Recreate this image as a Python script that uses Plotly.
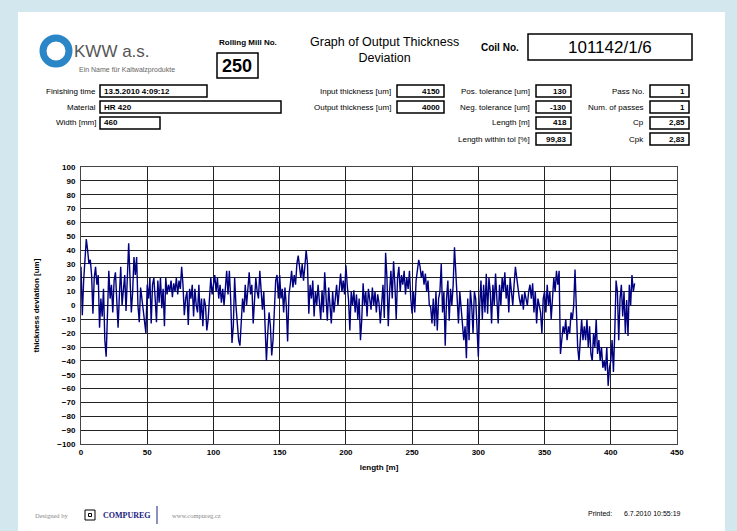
import plotly.graph_objects as go

W, H = 737, 531
FONT = "Liberation Sans Narrow, Arial Narrow, Liberation Sans, Arial, sans-serif"
SERIF = "Liberation Serif, DejaVu Serif, serif"

# measured thickness deviation, one reading per metre of coil length
length_m = list(range(0, 419))
deviation_um = [
    28, -7, 18, 35, 48, 40, 30, 33, 22, -6,
    20, 28, 15, 22, -16, 5, -8, 12, -25, -37,
    -2, 25, 5, 15, -5, 18, 24, 5, -16, 8,
    28, 0, 10, 22, -4, 30, 45, 20, -5, 10,
    35, 22, 35, 0, -12, 13, 5, -3, -10, -20,
    15, 5, 20, -13, 15, 20, 5, -12, 18, 2,
    20, -2, 12, -15, 20, 8, 15, 10, 18, 6,
    16, 10, 20, 8, 18, 12, 28, 15, -7, 5,
    10, -14, 12, 5, 15, -8, 12, 0, -5, 15,
    -10, 5, -15, 5, 0, -18, -10, 5, 20, 8,
    15, 22, 10, 20, 5, 15, 2, 12, 0, 15,
    25, 8, 25, 5, -27, -15, 20, 0, -15, -25,
    -29, -10, 5, -5, 15, 0, 10, 24, 8, 15,
    -13, 5, 20, 10, 5, 25, 10, -3, 10, -12,
    -40, -20, -5, -15, -36, -25, -5, 18, 22, 5,
    22, 5, 12, -5, 13, 0, -26, 8, 15, 25,
    13, 22, 15, 30, 36, 25, 20, 30, 18, 28,
    40, 30, -6, 15, 5, 18, -8, 10, 0, 15,
    5, -10, 11, -5, 24, 8, -11, 13, 0, -13,
    10, -5, 5, 15, 0, 12, 23, 10, 18, 8,
    29, 15, 4, -18, 10, 0, 11, -5, 8, -10,
    5, -25, -10, 16, 0, 10, -8, 12, 5, -3,
    13, 0, 10, -5, 8, 2, -13, 5, 15, -9,
    38, 20, -15, 10, 25, 5, 32, 15, -10, 20,
    28, 10, 22, 15, 25, 8, 20, 12, 25, 5,
    -6, 10, -5, 18, 25, 33, 28, 20, 25, 15,
    23, 10, 18, 0, -1, -13, 5, -15, 10, -18,
    5, 10, 30, -5, 10, -29, 5, 18, -11, 12,
    0, 15, 42, 20, 5, -13, 10, 0, -15, -25,
    -15, -38, 5, -25, 11, 0, -20, 10, 5, -15,
    -37, 0, 18, -10, 15, -5, 23, -6, 20, 10,
    -13, 15, 0, 23, 5, -13, 15, 0, 20, 10,
    24, 5, 15, -5, 20, 10, 0, 15, 28, 20,
    10, 5, 0, 8, -3, 10, 5, 0, 10, 15,
    5, 16, -5, 10, -13, 5, 0, -5, -20, 5,
    10, -5, 15, 0, 10, -10, 5, 20, 10, 25,
    15, 25, -35, -25, -15, -20, -10, -25, -15, -20,
    -5, -10, 0, 26, -5, -30, -40, -20, -10, -25,
    -15, -25, -10, -30, -15, -35, -40, -20, -30, -10,
    -35, -25, -40, -30, -45, -40, -47, -30, -58, -45,
    -40, -25, -48, -20, 18, 10, -25, 5, 15, -8,
    10, -20, 4, -22, 15, 0, 22, 10, 16,
]

x_ticks = [0, 50, 100, 150, 200, 250, 300, 350, 400, 450]
y_ticks = list(range(-100, 101, 10))

coil_no = "101142/1/6"
mill_no = "250"
left_fields = [("Finishing time", "13.5.2010 4:09:12"), ("Material", "HR 420"), ("Width [mm]", "460")]
mid_fields = [("Input thickness [um]", "4150"), ("Output thickness [um]", "4000")]
tol_fields = [("Pos. tolerance [um]", "130"), ("Neg. tolerance [um]", "-130"),
              ("Length [m]", "418"), ("Length within tol [%]", "99,83")]
pass_fields = [("Pass No.", "1"), ("Num. of passes", "1"), ("Cp", "2,85"), ("Cpk", "2,83")]


def px(x):
    return x / W


def py(y):
    return 1 - y / H


shapes = []
annotations = []


def box(x0, y0, x1, y1, width=1.5):
    shapes.append(dict(type="rect", xref="paper", yref="paper",
                       x0=px(x0), x1=px(x1), y0=py(y1), y1=py(y0),
                       line=dict(color="black", width=width), layer="above"))


def text(x, y, s, size=8, anchor="left", bold=False, color="black", family=FONT):
    annotations.append(dict(xref="paper", yref="paper", x=px(x), y=py(y), text=s,
                            showarrow=False, xanchor=anchor, yanchor="middle",
                            font=dict(size=size, color=color, family=family,
                                      weight="bold" if bold else "normal")))


# white page on blue background
shapes.append(dict(type="rect", xref="paper", yref="paper", x0=px(18), x1=px(725),
                   y0=0, y1=py(12), fillcolor="white", line=dict(width=0), layer="below"))

# logo
shapes.append(dict(type="circle", xref="paper", yref="paper", x0=px(43), x1=px(69),
                   y0=py(64), y1=py(38), line=dict(color="#2a86c6", width=7)))
text(72, 51, "KWW a.s.", size=17, color="#555555", family="Liberation Sans, Arial, sans-serif")
text(77, 70, "Ein Name für Kaltwalzprodukte", size=7, color="#666666")

# header
text(248, 42, "Rolling Mill No.", size=8, anchor="center", bold=True)
box(217, 53, 258, 78)
text(237.5, 66, mill_no, size=18, anchor="center", bold=True)
text(385, 50, "Graph of Output Thickness<br>Deviation", size=12.5, anchor="center")
text(521, 47, "Coil No.", size=10, anchor="right", bold=True)
box(528, 34, 692, 60)
text(610, 47, coil_no, size=17, anchor="center")

row_y = [91, 107, 123, 139]
left_widths = [207, 281, 160]
for (label, val), y, x1 in zip(left_fields, row_y, left_widths):
    text(98, y, label, anchor="right")
    box(100, y - 6, x1, y + 6)
    text(102, y, val, bold=True)

for (label, val), y in zip(mid_fields, row_y):
    text(393, y, label, anchor="right")
    box(397, y - 6, 444, y + 6)
    text(442, y, val, anchor="right", bold=True)

for (label, val), y in zip(tol_fields, row_y):
    text(532, y, label, anchor="right")
    box(536, y - 6, 571, y + 6)
    text(569, y, val, anchor="right", bold=True)

for (label, val), y in zip(pass_fields, row_y):
    text(646, y, label, anchor="right")
    box(650, y - 6, 689, y + 6)
    text(687, y, val, anchor="right", bold=True)

# footer
text(33, 515, "Designed by", size=6.5, color="#888888", family=SERIF)
box(85, 510, 95, 520, width=1)
box(88.5, 513.5, 91.5, 516.5, width=1)
text(101, 515, "COMPUREG", size=8, bold=True, color="#1a237e", family=SERIF)
shapes.append(dict(type="line", xref="paper", yref="paper", x0=px(157), x1=px(157),
                   y0=py(524), y1=py(506), line=dict(color="#1a237e", width=1)))
text(170, 515, "www.compureg.cz", size=6.5, color="#888888", family=SERIF)
text(586, 513, "Printed:", size=7)
text(622, 513, "6.7.2010 10:55:19", size=7)

fig = go.Figure(go.Scatter(x=length_m, y=deviation_um, mode="lines",
                           line=dict(color="#000080", width=1.4), showlegend=False))

fig.update_layout(
    width=W, height=H,
    margin=dict(l=0, r=0, t=0, b=0),
    paper_bgcolor="#d3e8ee",
    plot_bgcolor="white",
    shapes=shapes,
    annotations=annotations,
    font=dict(family=FONT, color="black"),
    xaxis=dict(domain=[px(81), px(677)], range=[0, 450], tickvals=x_ticks,
               automargin=False,
               showgrid=True, gridcolor="#222222", gridwidth=1, zeroline=False,
               showline=True, linecolor="#444444", linewidth=1, mirror=True,
               ticks="", tickfont=dict(size=8, weight="bold"),
               title=dict(text="length [m]", font=dict(size=8, weight="bold"), standoff=8)),
    yaxis=dict(domain=[py(444), py(167)], range=[-100, 100], tickvals=y_ticks,
               automargin=False, ticklabelstandoff=3,
               showgrid=True, gridcolor="#222222", gridwidth=1, zeroline=False,
               showline=True, linecolor="#444444", linewidth=1, mirror=True,
               ticks="", tickfont=dict(size=8, weight="bold"),
               title=dict(text="thickness deviation [um]", font=dict(size=8, weight="bold"), standoff=16)),
)

# the page body has a default margin that would push the figure off its frame
fig.write_html("out.html", config={"displayModeBar": False},
               post_script="document.body.style.margin='0';")
